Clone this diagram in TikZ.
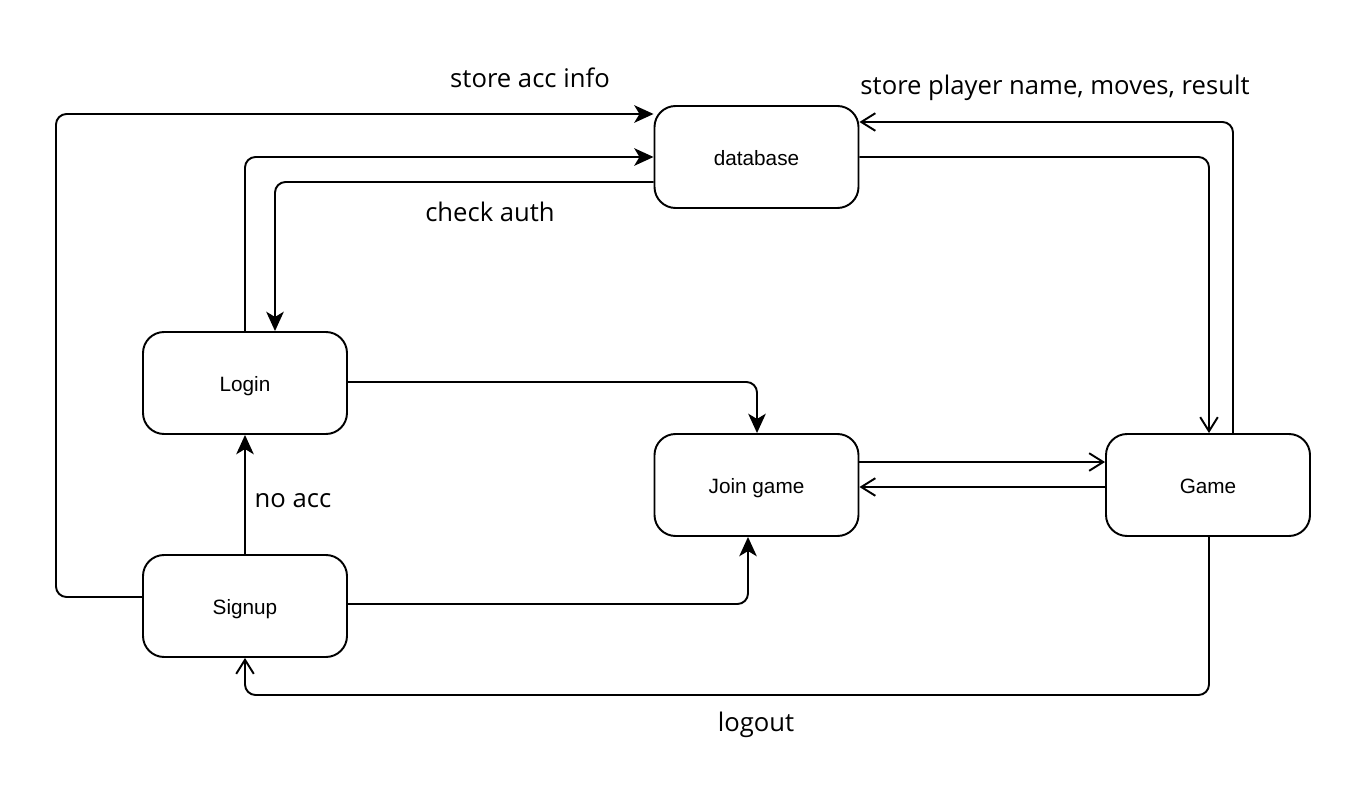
\documentclass[tikz,border=0pt]{standalone}
\usepackage{fontspec}
\setmainfont{Liberation Sans}
\newfontfamily\lblfont{Open Sans}
\usetikzlibrary{arrows.meta}
\begin{document}
\begin{tikzpicture}[x=0.02cm,y=-0.02cm,
  box/.style={draw,line width=1.1pt,rounded corners=12pt,minimum width=204*0.02cm,minimum height=102*0.02cm,font=\fontsize{11.8pt}{14pt}\selectfont,inner sep=0pt,text height=10pt,text depth=0pt},
  conn/.style={line width=1.1pt,rounded corners=6pt},
  fa/.style={conn,-{Stealth[length=11pt,width=10pt,inset=3pt]}},
  oa/.style={conn,-{Straight Barb[length=8pt,width=10pt]}},
  lbl/.style={font=\lblfont\fontsize{14.6pt}{17pt}\selectfont,inner sep=0pt}]
\useasboundingbox (0,0) rectangle (1348,790);
\node[box] (db) at (756.5,157) {database};
\node[box] (login) at (245,383) {Login};
\node[box] (join) at (756.5,485) {Join game};
\node[box] (game) at (1208,485) {Game};
\node[box] (signup) at (245,606) {Signup};
% signup -> db
\draw[fa] (signup.west |- 0,597) -- (56,597) -- (56,114) -- (db.west |- 0,114);
\node[lbl] (l1) at (530,78) {store acc info};
% login -> db
\draw[fa] (login.north) -- (245,157) -- (db.west);
% db -> login
\draw[fa] (db.west |- 0,182) -- (275,182) -- (login.north -| 275,0);
\node[lbl] (l2) at (490,212) {check auth};
% login -> join
\draw[fa] (login.east |- 0,382) -- (757,382) -- (join.north -| 757,0);
% signup -> join
\draw[fa] (signup.east |- 0,604) -- (748,604) -- (join.south -| 748,0);
% signup -> login
\draw[fa] (signup.north) -- (login.south);
\node[lbl] (l3) at (293,501) {no acc};
% join <-> game
\draw[oa] (join.east |- 0,462) -- (game.west |- 0,462);
\draw[oa] (game.west |- 0,487) -- (join.east |- 0,487);
% db -> game
\draw[oa] (db.east) -- (1209,157) -- (game.north -| 1209,0);
% game -> db
\draw[oa] (game.north -| 1233,0) -- (1233,122) -- (db.east |- 0,122);
\node[lbl] (l4) at (1055,88) {store player name, moves, result};
% game -> signup
\draw[oa] (game.south -| 1209,0) -- (1209,695) -- (245,695) -- (signup.south);
\node[lbl] (l5) at (756,725) {logout};
\end{tikzpicture}
\end{document}
